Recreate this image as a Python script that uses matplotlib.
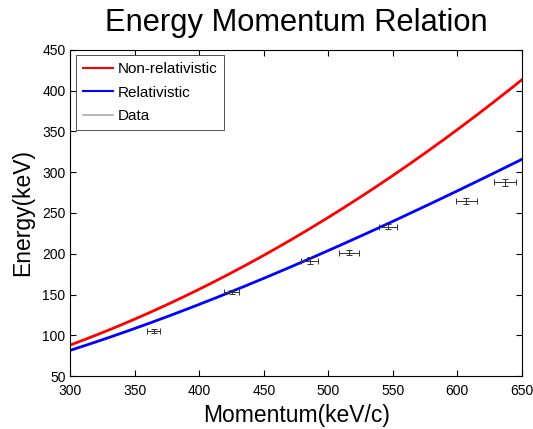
import numpy as np
import matplotlib
matplotlib.use("Agg")
import matplotlib.pyplot as plt
from matplotlib.lines import Line2D

plt.rcParams['font.family'] = ['Liberation Sans', 'DejaVu Sans']

# Electron rest energy (keV) used by the model curves
rest_mass = 511.0

# Measured points
momentum = [364.5, 425.0, 485.7, 516.0, 546.5, 607.0, 637.0]
energy = [105.0, 153.0, 191.5, 201.5, 233.0, 265.0, 287.5]
momentum_err = [5.2, 5.8, 6.5, 7.5, 7.1, 8.4, 8.8]
energy_err = [2.5, 2.5, 4.5, 3.0, 3.0, 3.5, 4.0]

p = np.linspace(300, 650, 400)
e_classical = p**2 / (2 * rest_mass)
e_relativistic = np.sqrt(p**2 + rest_mass**2) - rest_mass

fig = plt.figure(figsize=(5.33, 4.29), dpi=100)
ax = fig.add_axes([0.132, 0.1235, 0.847, 0.76])

ax.plot(p, e_classical, color='#ff0000', lw=2, label='Non-relativistic')
ax.plot(p, e_relativistic, color='#0000ff', lw=2, label='Relativistic')
ax.errorbar(momentum, energy, xerr=momentum_err, yerr=energy_err,
            fmt='none', ecolor='#333333', elinewidth=0.7, capsize=2,
            capthick=0.7, label='Data')

ax.set_xlim(300, 650)
ax.set_ylim(50, 450)
ax.set_xticks(np.arange(300, 651, 50))
ax.set_yticks(np.arange(50, 451, 50))
ax.tick_params(direction='in', top=True, right=True, labelsize=10, length=4)
ax.tick_params(axis='x', pad=6)

ax.set_title('Energy Momentum Relation', fontsize=22.2, pad=14)
ax.set_xlabel('Momentum(keV/c)', fontsize=16.5, labelpad=4)
ax.set_ylabel('Energy(keV)', fontsize=16.5, labelpad=6)

handles, labels = ax.get_legend_handles_labels()
handles = [Line2D([], [], color='#ff0000', lw=1.5),
           Line2D([], [], color='#0000ff', lw=1.5),
           Line2D([], [], color='#aaaaaa', lw=1.2)]
leg = ax.legend(handles, labels, loc='upper left', fontsize=11,
                fancybox=False, edgecolor='#333333', framealpha=1,
                handlelength=2.0, handletextpad=0.3, labelspacing=0.62,
                borderaxespad=0.35, borderpad=0.45)
leg.get_frame().set_linewidth(0.6)

fig.savefig('out.png', dpi=100)
